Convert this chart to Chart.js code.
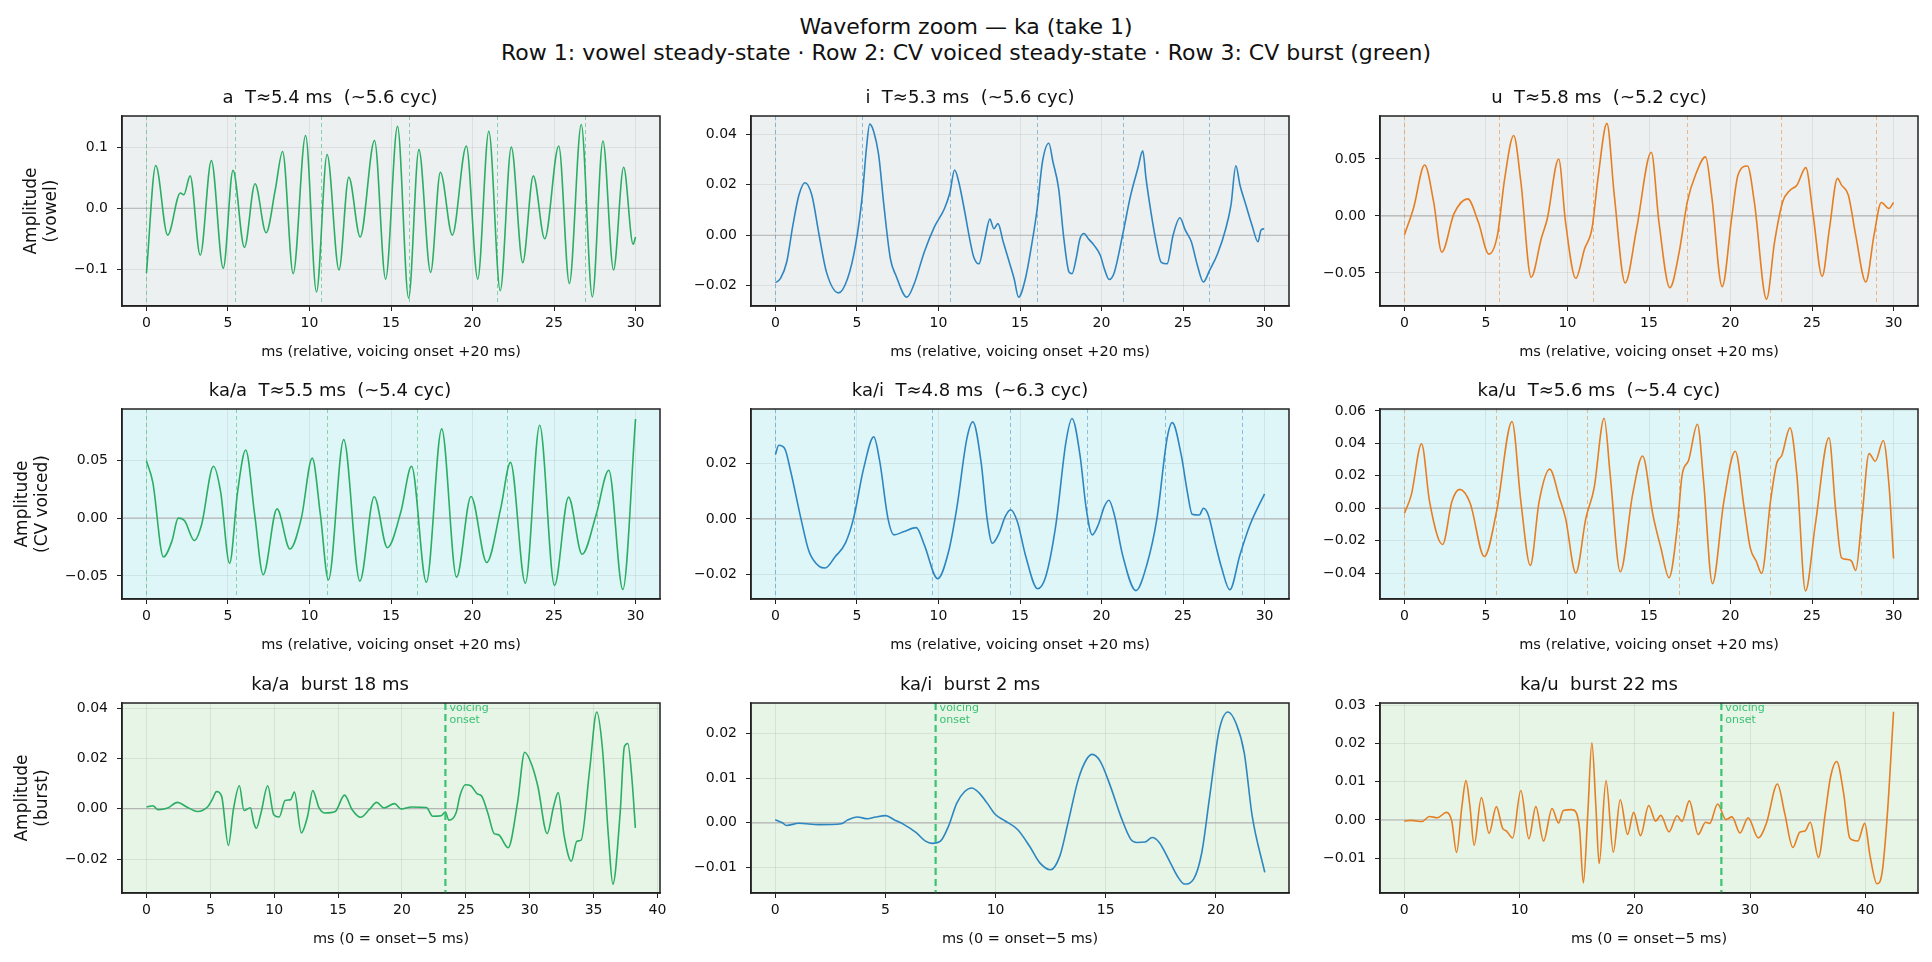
<!DOCTYPE html>
<html>
<head>
<meta charset="utf-8">
<script src="https://cdn.jsdelivr.net/npm/chart.js@4.4.1/dist/chart.umd.min.js"></script>
<style>
  body { margin: 0; background: #fff; width: 1932px; height: 962px; position: relative; overflow: hidden; }
  #suptitle { position: absolute; left: 0; top: 14px; width: 1932px; text-align: center;
    font-family: 'DejaVu Sans', sans-serif; font-size: 22px; line-height: 25.5px; color: #111; }
  canvas { position: absolute; }
</style>
</head>
<body>
<div id="suptitle">Waveform zoom — ka (take 1)<br>Row 1: vowel steady-state · Row 2: CV voiced steady-state · Row 3: CV burst (green)</div>
<script>
// ---- values (time in ms, amplitude) ----
const aVowelMs = [0,0.57,1.30,2.08,2.29,2.68,3.30,3.98,4.71,5.31,6.01,6.66,7.34,7.9,8.35,9.0,9.76,10.43,11.08,11.81,12.41,13.11,13.99,14.67,15.40,16.08,16.71,17.43,18.03,18.76,19.62,20.32,21.0,21.70,22.38,23.08,23.73,24.43,25.29,25.94,26.67,27.35,28.0,28.65,29.27,29.85,30.0];
const aVowelAmp = [-0.106,0.070,-0.044,0.025,0.022,0.053,-0.077,0.078,-0.098,0.062,-0.064,0.040,-0.040,0.030,0.093,-0.107,0.119,-0.137,0.088,-0.101,0.051,-0.047,0.111,-0.116,0.134,-0.147,0.096,-0.105,0.059,-0.044,0.102,-0.116,0.126,-0.135,0.100,-0.089,0.053,-0.050,0.102,-0.123,0.137,-0.145,0.110,-0.101,0.067,-0.059,-0.047];

const iVowelMs = [0,0.32,0.69,1.07,1.44,1.81,2.23,2.68,3.13,3.87,4.42,4.91,5.33,5.58,5.78,6.03,6.33,6.65,7.05,7.39,8.06,8.51,9.13,9.75,10.37,10.69,10.99,11.24,11.61,11.91,12.16,12.48,12.85,13.15,13.40,13.65,13.97,14.34,14.64,14.91,15.33,15.71,16.03,16.38,16.77,17.02,17.37,17.69,18.01,18.19,18.44,18.68,18.93,19.18,19.55,19.93,20.17,20.47,20.79,21.29,21.79,22.23,22.53,22.73,23.03,23.35,23.65,24.02,24.39,24.81,25.14,25.51,25.88,26.25,26.63,27.12,27.62,27.94,28.24,28.49,28.86,29.23,29.60,29.78,29.98];
const iVowelAmp = [-0.0188,-0.017,-0.0106,0.004,0.0159,0.0208,0.0159,0.0,-0.0146,-0.0228,-0.0172,-0.004,0.0159,0.0344,0.044,0.041,0.0318,0.0119,-0.0093,-0.0159,-0.0245,-0.0192,-0.0066,0.0033,0.0106,0.0166,0.0258,0.0212,0.0093,-0.0013,-0.0086,-0.0113,-0.0013,0.0064,0.0026,0.0046,-0.0026,-0.0106,-0.0172,-0.0245,-0.0172,-0.004,0.0093,0.0291,0.0364,0.0291,0.0185,-0.0013,-0.0146,-0.0152,-0.0093,-0.0013,0.0007,-0.0013,-0.004,-0.008,-0.0132,-0.0175,-0.0146,0.0,0.0159,0.0265,0.0334,0.0225,0.0093,-0.0026,-0.0106,-0.0113,0.0,0.0069,0.002,-0.0026,-0.0119,-0.0185,-0.0139,-0.0073,0.0026,0.0119,0.0275,0.0199,0.0119,0.004,-0.0026,0.002,0.0026];

const uVowelMs = [0,0.55,1.24,1.79,2.29,3.04,3.88,4.53,5.18,5.70,6.15,6.70,7.14,7.77,8.39,8.76,9.46,9.88,10.51,11.05,11.50,11.87,12.42,12.87,13.54,14.24,15.14,15.61,16.28,16.85,17.35,17.85,18.47,18.84,19.49,20.09,20.46,21.04,21.46,22.21,22.70,23.2,23.65,24.07,24.62,25.07,25.62,26.07,26.56,26.81,27.23,27.68,28.30,28.80,29.25,29.72,30.0];
const uVowelAmp = [-0.0165,0.0065,0.0447,0.0124,-0.0318,0.002,0.015,-0.0053,-0.0335,-0.0171,0.033,0.0706,0.030,-0.0538,-0.020,-0.0024,0.050,-0.0053,-0.0547,-0.0288,-0.0112,0.033,0.0812,0.0182,-0.0588,-0.0112,0.0559,-0.0053,-0.063,-0.0318,0.0124,0.0359,0.0518,0.0182,-0.062,0.0006,0.0359,0.0438,0.0124,-0.073,-0.023,0.0124,0.0226,0.027,0.0424,0.0006,-0.053,-0.011,0.033,0.027,0.0182,-0.017,-0.058,-0.017,0.0118,0.0065,0.0118];

const kaAMs = [0,0.39,1.04,1.56,1.95,2.34,2.94,3.38,4.11,4.55,5.10,5.59,6.09,6.64,7.16,8.01,8.80,9.50,10.17,10.67,11.16,12.10,13.09,13.97,14.78,15.61,16.26,17.17,18.11,19.02,19.91,20.87,21.73,22.33,23.24,24.12,25.03,25.89,26.72,27.58,28.36,29.22,30.0];
const kaAAmp = [0.0494,0.031,-0.0335,-0.020,0.0,-0.0023,-0.0193,-0.0057,0.0449,0.0227,-0.0392,0.0227,0.059,0.0028,-0.0489,0.008,-0.0267,0.0,0.052,0.0028,-0.0534,0.068,-0.0545,0.0185,-0.0256,0.0057,0.0449,-0.0554,0.0773,-0.0511,0.0188,-0.0384,0.0085,0.0483,-0.0563,0.0804,-0.0582,0.0182,-0.0313,0.0028,0.0415,-0.0619,0.0858];

const kaIMs = [0,0.2,0.57,0.94,1.56,2.06,2.68,3.05,3.67,4.29,4.79,5.41,6.03,6.40,6.90,7.27,7.89,8.64,9.13,9.95,10.62,11.12,11.74,12.11,12.61,12.98,13.30,13.72,14.09,14.42,14.84,15.33,16.08,16.58,17.20,17.82,18.19,18.68,19.06,19.43,19.80,20.17,20.45,20.79,21.29,22.11,22.78,23.40,24.02,24.34,24.89,25.26,25.56,26.00,26.25,26.55,27.00,27.37,27.87,28.49,29.11,30.0];
const kaIAmp = [0.0231,0.0264,0.0252,0.0169,0.0002,-0.0117,-0.017,-0.0176,-0.0135,-0.0087,0.0002,0.0181,0.0294,0.0205,0.0002,-0.0057,-0.0045,-0.0031,-0.0093,-0.0214,-0.0117,0.0038,0.0288,0.0348,0.0205,0.0002,-0.0087,-0.0051,0.0008,0.0033,-0.001,-0.0129,-0.025,-0.0206,-0.0021,0.0276,0.036,0.0229,0.0038,-0.0057,-0.0021,0.0044,0.0067,0.0014,-0.0129,-0.0257,-0.0164,0.0002,0.0288,0.0345,0.0229,0.0098,0.0017,0.0014,0.0038,0.0014,-0.0093,-0.0176,-0.0254,-0.0129,-0.0021,0.009];

const kaUMs = [0,0.42,1.05,1.54,2.34,2.91,3.39,4.03,4.90,5.65,6.60,7.14,7.72,8.26,8.91,9.51,9.88,10.51,11.13,11.63,12.25,12.62,13.24,13.99,14.61,15.24,15.73,16.23,16.73,17.03,17.43,17.97,18.35,18.89,19.59,20.29,20.84,21.21,21.58,21.91,22.45,22.83,23.15,23.65,24.07,24.60,25.20,26.04,26.44,26.81,27.18,27.43,27.68,28.06,28.50,28.88,29.37,29.72,30.0];
const kaUAmp = [-0.0031,0.0082,0.0398,0.0041,-0.0224,0.0041,0.0116,0.0031,-0.0298,-0.002,0.0535,0.0041,-0.0353,0.0041,0.0241,0.0061,-0.0061,-0.040,-0.0061,0.0122,0.0555,0.0204,-0.0392,0.0082,0.0322,-0.0041,-0.0245,-0.0429,-0.0122,0.0204,0.0296,0.0518,0.0163,-0.0465,0.0041,0.0351,0.0,-0.0245,-0.0327,-0.0402,0.0041,0.0276,0.0327,0.0496,0.0204,-0.051,-0.0102,0.0435,0.0,-0.0306,-0.0316,-0.0327,-0.0384,-0.0061,0.0337,0.029,0.0418,0.0143,-0.031];

const burstAMs = [0,0.5,0.9,1.66,2.42,3.15,3.98,4.81,5.14,5.48,5.88,6.41,6.80,7.27,7.63,8.13,8.40,8.60,8.96,9.49,9.96,10.39,10.85,11.29,11.58,12.12,12.61,13.01,13.51,13.94,14.77,15.50,16.10,16.76,17.43,18.02,18.59,19.42,19.92,20.75,21.91,22.41,23.07,23.40,23.67,24.23,24.56,24.96,25.39,25.89,26.22,26.72,27.22,27.55,28.31,29.04,29.61,30.21,30.64,31.37,31.87,32.23,32.70,33.26,33.69,34.02,34.69,35.25,35.68,36.18,36.51,37.08,37.41,37.68,38.01,38.27];
const burstAAmp = [0.0007,0.0012,-0.0004,0.0003,0.0025,0.0007,-0.0011,0.0009,0.0036,0.0068,0.0049,-0.0146,-0.0004,0.0091,-0.0007,0.0004,-0.0057,-0.0078,-0.0017,0.0091,-0.0024,-0.0033,0.0033,0.0036,0.0066,-0.0096,-0.003,0.0072,0.0003,-0.0017,-0.0011,0.0054,-0.0004,-0.0034,-0.0004,0.0025,0.0003,0.002,-0.0001,0.0007,0.0005,-0.003,-0.0028,-0.0013,-0.0046,-0.0017,0.0055,0.0095,0.0091,0.0059,0.0051,-0.0017,-0.0099,-0.0103,-0.0155,0.0022,0.0224,0.0167,0.0088,-0.0099,0.0009,0.0064,-0.0109,-0.0209,-0.0129,-0.0125,0.0154,0.0384,0.0246,-0.0122,-0.030,-0.0017,0.0246,0.0259,0.0114,-0.0076];

const burstIMs = [0,0.33,0.51,1.07,1.99,3.0,3.27,3.73,4.19,4.56,5.02,5.39,5.85,6.40,6.82,7.13,7.50,7.87,8.24,8.60,8.92,9.25,9.62,9.98,10.44,11.0,11.54,12.0,12.5,12.92,13.29,13.75,14.12,14.39,14.76,15.22,15.68,16.14,16.42,16.78,17.11,17.43,17.89,18.25,18.58,18.99,19.36,19.72,20.15,20.55,20.92,21.29,21.65,22.22];
const burstIAmp = [0.0007,0.0,-0.0006,-0.0001,-0.0004,-0.0002,0.0006,0.0013,0.0009,0.0013,0.0016,0.0007,-0.0004,-0.0022,-0.0041,-0.0046,-0.0041,-0.0007,0.0044,0.007,0.0078,0.0067,0.0044,0.0019,0.0004,-0.0015,-0.0052,-0.0089,-0.0105,-0.0074,0.0,0.0096,0.0141,0.0153,0.0137,0.0081,0.0015,-0.0037,-0.0044,-0.0043,-0.0033,-0.0044,-0.0085,-0.0119,-0.0137,-0.0126,-0.0067,0.0059,0.0207,0.0248,0.0222,0.0156,0.0015,-0.0111];

const burstUMs = [0,0.6,1.55,2.18,2.89,3.66,4.12,4.54,5.0,5.35,5.70,6.06,6.69,7.36,7.99,8.52,8.87,9.40,10.11,10.81,11.41,12.08,12.82,13.38,13.80,14.51,14.86,15.21,15.53,15.92,16.27,16.62,16.90,17.50,18.13,18.73,19.37,19.89,20.49,21.20,21.80,22.25,22.96,23.66,24.08,24.72,25.49,26.13,26.48,27.18,27.89,28.42,29.12,29.82,30.70,31.41,32.36,32.99,33.70,34.30,34.75,35.21,35.92,36.51,36.97,37.50,38.10,38.63,39.33,39.93,40.39,40.99,41.44,41.90,42.43];
const burstUAmp = [-0.0003,-0.0001,-0.0004,0.0009,0.0006,0.002,-0.0003,-0.0085,0.0035,0.0103,0.0035,-0.0066,0.0059,-0.0035,0.0035,-0.0021,-0.0029,-0.0047,0.0077,-0.0049,0.0035,-0.0055,0.003,-0.0008,0.0025,0.0027,0.0022,-0.0025,-0.0165,0.0018,0.0202,0.0035,-0.0114,0.0103,-0.0084,0.0053,-0.0038,0.002,-0.0041,0.0038,-0.0003,0.0012,-0.0031,0.0011,-0.0004,0.005,-0.0038,-0.0006,-0.0009,0.0042,0.0001,0.0008,-0.0034,0.0006,-0.0047,-0.0008,0.0094,0.0018,-0.0072,-0.0032,-0.0029,-0.0006,-0.0098,0.0018,0.0113,0.0153,0.007,-0.0047,-0.0055,-0.0009,-0.0094,-0.0167,-0.0137,0.0018,0.0283];

// dashed period markers (ms) and voicing-onset markers
const aVowelPeriods = [0,5.41,10.72,16.13,21.49,26.89];
const iVowelPeriods = [0,5.33,10.69,16.03,21.29,26.6];
const uVowelPeriods = [0,5.8,11.55,17.35,23.1,28.9];
const kaAPeriods = [0,5.52,11.06,16.58,22.1,27.64];
const kaIPeriods = [0,4.81,9.58,14.37,19.11,23.87,28.63];
const kaUPeriods = [0,5.6,11.18,16.83,22.4,27.98];
const onsetA = 23.4, onsetI = 7.28, onsetU = 27.5;

// tick labels
const xTicks30 = [0,5,10,15,20,25,30];
const xTicksBurstA = [0,5,10,15,20,25,30,35,40];
const xTicksBurstI = [0,5,10,15,20];
const xTicksBurstU = [0,10,20,30,40];
const yTicksAVowel = [-0.1,0,0.1];
const yTicksIVowel = [-0.02,0,0.02,0.04];
const yTicksUVowel = [-0.05,0,0.05];
const yTicksKaA = [-0.05,0,0.05];
const yTicksKaI = [-0.02,0,0.02];
const yTicksKaU = [-0.04,-0.02,0,0.02,0.04,0.06];
const yTicksBurstA = [-0.02,0,0.02,0.04];
const yTicksBurstI = [-0.01,0,0.01,0.02];
const yTicksBurstU = [-0.01,0,0.01,0.02,0.03];

const GREEN = '#2aae63', BLUE = '#2e86c1', ORANGE = '#e67e22';
const ONSET = '#3cc273';
const ROW_BG = ['#ecf0f1', '#dff6f9', '#e6f5e6'];
const FONT = "'DejaVu Sans', sans-serif";
const XL_STEADY = 'ms (relative, voicing onset +20 ms)';
const XL_BURST = 'ms (0 = onset\u22125 ms)';

const COL_L = [122, 751, 1380];
const ROW_T = [116, 409, 703];
const PLOT_W = 538, PLOT_H = 190, TITLE_H = 40, XAX_H = 60, PAD_R = 12;

const panels = [
  {row:0, col:0, title:'a  T\u22485.4 ms  (~5.6 cyc)', ms:aVowelMs, amp:aVowelAmp, color:GREEN, x:[-1.5,31.5], y:[-0.160,0.151], xt:xTicks30, yt:yTicksAVowel, dec:1, per:aVowelPeriods, ylab:['Amplitude','(vowel)'], xlab:XL_STEADY},
  {row:0, col:1, title:'i  T\u22485.3 ms  (~5.6 cyc)', ms:iVowelMs, amp:iVowelAmp, color:BLUE, x:[-1.5,31.5], y:[-0.028,0.0472], xt:xTicks30, yt:yTicksIVowel, dec:2, per:iVowelPeriods, xlab:XL_STEADY},
  {row:0, col:2, title:'u  T\u22485.8 ms  (~5.2 cyc)', ms:uVowelMs, amp:uVowelAmp, color:ORANGE, x:[-1.5,31.5], y:[-0.079,0.0877], xt:xTicks30, yt:yTicksUVowel, dec:2, per:uVowelPeriods, xlab:XL_STEADY},
  {row:1, col:0, title:'ka/a  T\u22485.5 ms  (~5.4 cyc)', ms:kaAMs, amp:kaAAmp, color:GREEN, x:[-1.5,31.5], y:[-0.070,0.0945], xt:xTicks30, yt:yTicksKaA, dec:2, per:kaAPeriods, ylab:['Amplitude','(CV voiced)'], xlab:XL_STEADY},
  {row:1, col:1, title:'ka/i  T\u22484.8 ms  (~6.3 cyc)', ms:kaIMs, amp:kaIAmp, color:BLUE, x:[-1.5,31.5], y:[-0.0287,0.0394], xt:xTicks30, yt:yTicksKaI, dec:2, per:kaIPeriods, xlab:XL_STEADY},
  {row:1, col:2, title:'ka/u  T\u22485.6 ms  (~5.4 cyc)', ms:kaUMs, amp:kaUAmp, color:ORANGE, x:[-1.5,31.5], y:[-0.056,0.0612], xt:xTicks30, yt:yTicksKaU, dec:2, per:kaUPeriods, xlab:XL_STEADY},
  {row:2, col:0, title:'ka/a  burst 18 ms', ms:burstAMs, amp:burstAAmp, color:GREEN, x:[-1.92,40.2], y:[-0.0335,0.042], xt:xTicksBurstA, yt:yTicksBurstA, dec:2, onset:onsetA, ylab:['Amplitude','(burst)'], xlab:XL_BURST},
  {row:2, col:1, title:'ka/i  burst 2 ms', ms:burstIMs, amp:burstIAmp, color:BLUE, x:[-1.1,23.32], y:[-0.0157,0.0268], xt:xTicksBurstI, yt:yTicksBurstI, dec:2, onset:onsetI, xlab:XL_BURST},
  {row:2, col:2, title:'ka/u  burst 22 ms', ms:burstUMs, amp:burstUAmp, color:ORANGE, x:[-2.1,44.55], y:[-0.0191,0.0306], xt:xTicksBurstU, yt:yTicksBurstU, dec:2, onset:onsetU, xlab:XL_BURST}
];

function fmt(v, dec) {
  return v.toFixed(dec).replace('-', '\u2212');
}

// background, zero line, period / onset markers and the full frame
const deco = {
  id: 'deco',
  beforeDraw(chart, args, o) {
    const {ctx, chartArea: a} = chart;
    ctx.save();
    ctx.fillStyle = o.bg;
    ctx.fillRect(a.left, a.top, a.width, a.height);
    ctx.restore();
  },
  beforeDatasetsDraw(chart, args, o) {
    const {ctx, chartArea: a, scales} = chart;
    ctx.save();
    ctx.beginPath();
    ctx.rect(a.left, a.top, a.width, a.height);
    ctx.clip();
    const y0 = scales.y.getPixelForValue(0);
    ctx.strokeStyle = '#b4b4b4';
    ctx.lineWidth = 1.2;
    ctx.beginPath(); ctx.moveTo(a.left, y0); ctx.lineTo(a.right, y0); ctx.stroke();
    if (o.periods) {
      ctx.strokeStyle = o.color;
      ctx.globalAlpha = 0.5;
      ctx.lineWidth = 1;
      ctx.setLineDash([4, 3]);
      o.periods.forEach(t => {
        const x = Math.round(scales.x.getPixelForValue(t)) + 0.5;
        ctx.beginPath(); ctx.moveTo(x, a.top); ctx.lineTo(x, a.bottom); ctx.stroke();
      });
    }
    ctx.restore();
  },
  afterDatasetsDraw(chart, args, o) {
    const {ctx, chartArea: a, scales} = chart;
    ctx.save();
    if (o.onset !== undefined) {
      const x = scales.x.getPixelForValue(o.onset);
      ctx.strokeStyle = ONSET;
      ctx.lineWidth = 2.2;
      ctx.setLineDash([7, 4]);
      ctx.beginPath(); ctx.moveTo(x, a.top); ctx.lineTo(x, a.bottom); ctx.stroke();
      ctx.setLineDash([]);
      ctx.fillStyle = ONSET;
      ctx.font = '11px ' + FONT;
      ctx.textBaseline = 'middle';
      ctx.textAlign = 'left';
      ctx.fillText('voicing', x + 4, a.top + 5.5);
      ctx.fillText('onset', x + 4, a.top + 17.5);
    }
    ctx.strokeStyle = '#222';
    ctx.lineWidth = 1.5;
    ctx.strokeRect(a.left, a.top, a.width, a.height);
    ctx.restore();
  }
};

panels.forEach(p => {
  const yw = p.col === 0 ? COL_L[0] : 100;
  const canvas = document.createElement('canvas');
  canvas.width = yw + PLOT_W + PAD_R;
  canvas.height = TITLE_H + PLOT_H + XAX_H;
  canvas.style.left = (COL_L[p.col] - yw) + 'px';
  canvas.style.top = (ROW_T[p.row] - TITLE_H) + 'px';
  document.body.appendChild(canvas);

  new Chart(canvas, {
    type: 'line',
    data: {
      datasets: [{
        data: p.ms.map((t, i) => ({x: t, y: p.amp[i]})),
        borderColor: p.color,
        borderWidth: 1.6,
        pointRadius: 0,
        fill: false,
        cubicInterpolationMode: 'monotone'
      }]
    },
    options: {
      responsive: false,
      animation: false,
      devicePixelRatio: 1,
      layout: {padding: {left: 0, right: PAD_R, top: 0, bottom: 0}},
      plugins: {
        legend: {display: false},
        tooltip: {enabled: false},
        title: {
          display: true, text: p.title, color: '#111',
          font: {family: FONT, size: 18, weight: 'normal', lineHeight: '22px'},
          padding: {top: 11, bottom: 7}
        },
        deco: {bg: ROW_BG[p.row], color: p.color, periods: p.per, onset: p.onset}
      },
      scales: {
        x: {
          type: 'linear', min: p.x[0], max: p.x[1],
          afterBuildTicks: s => { s.ticks = p.xt.map(v => ({value: v})); },
          afterFit: s => { s.height = XAX_H; },
          grid: {color: 'rgba(0,0,0,0.07)', tickColor: '#222', tickLength: 5},
          border: {color: '#222', width: 1.5},
          ticks: {color: '#111', font: {family: FONT, size: 14}, padding: 4, maxRotation: 0, autoSkip: false,
                  callback: v => fmt(v, 0)},
          title: {display: true, text: p.xlab, color: '#111', font: {family: FONT, size: 14.5},
                  padding: {top: 4, bottom: 5}}
        },
        y: {
          type: 'linear', min: p.y[0], max: p.y[1],
          afterBuildTicks: s => { s.ticks = p.yt.map(v => ({value: v})); },
          afterFit: s => { s.width = yw; },
          grid: {color: 'rgba(0,0,0,0.07)', tickColor: '#222', tickLength: 5},
          border: {color: '#222', width: 1.5},
          ticks: {color: '#111', font: {family: FONT, size: 14}, padding: 9, autoSkip: false,
                  callback: v => fmt(v, p.dec)},
          title: {display: !!p.ylab, text: p.ylab || '', color: '#111', font: {family: FONT, size: 17},
                  padding: {top: p.row === 0 ? 21 : 12, bottom: 0}}
        }
      }
    },
    plugins: [deco]
  });
});
</script>
</body>
</html>
